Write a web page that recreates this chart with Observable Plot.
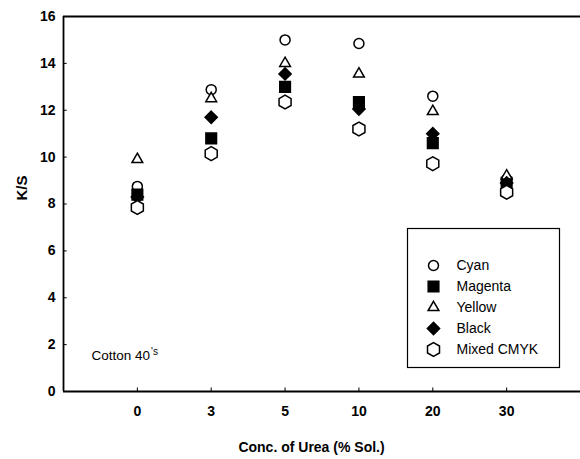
<!DOCTYPE html>
<html>
<head>
<meta charset="utf-8">
<script src="https://cdn.jsdelivr.net/npm/d3@7"></script>
<script src="https://cdn.jsdelivr.net/npm/@observablehq/plot@0.6"></script>
<style>
  html, body { margin: 0; padding: 0; background: #fff; }
  #chart svg { display: block; }
</style>
</head>
<body>
<div id="chart"></div>
<script>
// ---- data ----
const concentrations = ["0", "3", "5", "10", "20", "30"];
const seriesNames = ["Cyan", "Magenta", "Yellow", "Black", "Mixed CMYK"];
const cyan    = [8.75, 12.88, 15.0, 14.85, 12.6, 9.05];
const magenta = [8.4, 10.8, 13.0, 12.35, 10.6, 8.9];
const yellow  = [9.9, 12.5, 14.0, 13.55, 11.95, 9.2];
const black   = [8.3, 11.7, 13.55, 12.05, 11.0, 8.9];
const mixed   = [7.85, 10.15, 12.35, 11.2, 9.72, 8.5];
const yTicks = [0, 2, 4, 6, 8, 10, 12, 14, 16];

const seriesValues = [cyan, magenta, yellow, black, mixed];
const styles = [
  {symbol: "circle",   fill: "white", r: 5},
  {symbol: "square",   fill: "black", r: 6},
  {symbol: "triangle", fill: "white", r: 4},
  {symbol: "diamond2", fill: "black", r: 5.5},
  {symbol: "hexagon",  fill: "white", r: 6}
];

const rows = seriesNames.map((name, s) =>
  seriesValues[s].map((v, i) => ({series: name, idx: i, conc: concentrations[i], value: v}))
);

const font = "'Liberation Sans', Arial, sans-serif";

const W = 580, H = 459;
const mL = 63, mT = 16, mB = 68, mR = 0;

const dotMarks = rows.map((data, s) =>
  Plot.dot(data, {
    x: "idx", y: "value",
    symbol: () => styles[s].symbol,
    r: styles[s].r,
    fill: styles[s].fill,
    stroke: "black",
    strokeWidth: 1.5
  })
);

// legend marks (pixel-anchored)
const legX = 433 - mL, legY0 = 265 - mT, legStep = 21;
const legendMarks = seriesNames.flatMap((name, s) => [
  Plot.dot([name], {
    frameAnchor: "top-left", dx: legX, dy: legY0 + s * legStep,
    symbol: () => styles[s].symbol, r: styles[s].r,
    fill: styles[s].fill, stroke: "black", strokeWidth: 1.5
  }),
  Plot.text([name], {
    frameAnchor: "top-left", dx: legX + 23, dy: legY0 + s * legStep,
    text: d => d, textAnchor: "start", lineAnchor: "middle",
    fontSize: 14, fill: "black"
  })
]);

const chart = Plot.plot({
  width: W, height: H,
  marginLeft: mL, marginTop: mT, marginBottom: mB, marginRight: mR,
  style: {fontFamily: font, background: "white", color: "black"},
  symbol: {type: "identity"},
  x: {type: "linear", domain: [-1, 6], axis: null},
  y: {domain: [0, 16], axis: null},
  marks: [
    // frame lines
    Plot.ruleX([-1], {y1: 0, y2: 16, stroke: "black", strokeWidth: 1.8}),
    Plot.ruleY([0, 16], {x1: -1, x2: 6, stroke: "black", strokeWidth: 1.8}),
    // inward y ticks
    Plot.ruleY(yTicks, {x1: -1, x2: -0.95, stroke: "black", strokeWidth: 1}),
    // upward x ticks
    Plot.ruleX(d3.range(concentrations.length), {y1: 0, y2: 0.15, stroke: "black", strokeWidth: 1}),
    // y tick labels
    Plot.text(yTicks, {x: -1, y: d => d, text: d => String(d), dx: -8, textAnchor: "end", lineAnchor: "middle", fontSize: 14, fontWeight: "bold"}),
    // x tick labels
    Plot.text(concentrations, {x: (d, i) => i, y: 0, text: d => d, dy: 20, lineAnchor: "middle", fontSize: 14, fontWeight: "bold"}),
    // axis titles
    Plot.text(["Conc. of Urea (% Sol.)"], {frameAnchor: "bottom", dx: 311 - (mL + (W - mL - mR) / 2), dy: 447 - 391, text: d => d, lineAnchor: "middle", fontSize: 14, fontWeight: "bold"}),
    Plot.text(["K/S"], {frameAnchor: "left", dx: 22 - mL, dy: 200 - (mT + (H - mT - mB) / 2), text: d => d, rotate: -90, lineAnchor: "middle", fontSize: 15, fontWeight: "bold"}),
    // annotation
    Plot.text(["Cotton 40"], {frameAnchor: "bottom-left", dx: 91 - mL, dy: 355 - 391, text: d => d, textAnchor: "start", lineAnchor: "middle", fontSize: 13.5, className: "cotton-note"}),
    ...dotMarks,
    ...legendMarks
  ]
});

const svg = d3.select(chart);
// superscript 's on the annotation
svg.selectAll(".cotton-note text").append("tspan")
  .attr("dy", "-0.45em").attr("font-size", 10).attr("dx", 1).text("'s");
// legend box
svg.insert("rect", ":first-child")
  .attr("x", 407.5).attr("y", 228.5).attr("width", 152).attr("height", 139)
  .attr("fill", "white").attr("stroke", "black").attr("stroke-width", 1.2);
svg.insert("rect", ":first-child").attr("width", W).attr("height", H).attr("fill", "white");

document.getElementById("chart").appendChild(chart);
</script>
</body>
</html>
